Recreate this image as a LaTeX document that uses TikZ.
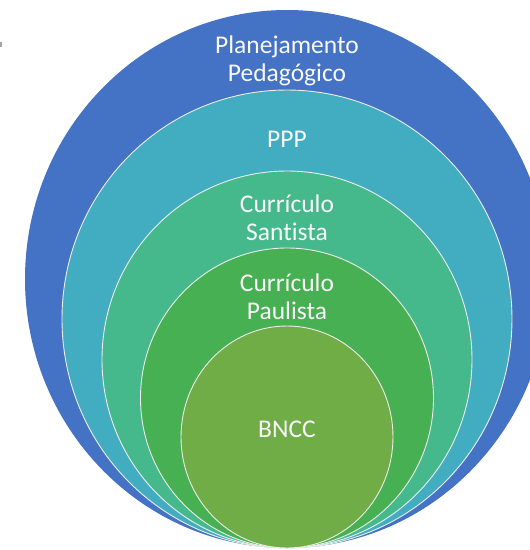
\documentclass[tikz,border=0pt]{standalone}
\usepackage{fontspec}
\setmainfont[Ligatures=NoCommon]{Carlito}
\definecolor{cblue}{HTML}{4472C4}
\definecolor{cteal}{HTML}{42ADC0}
\definecolor{cmint}{HTML}{45B98C}
\definecolor{cgreen}{HTML}{47B052}
\definecolor{colive}{HTML}{70AD47}
\begin{document}
\begin{tikzpicture}[x=1pt,y=-1pt,
  ring/.style={draw=white!85!gray,line width=0.9pt},
  lbl/.style={text=white!95!gray,font=\fontsize{25.5}{28}\selectfont,align=center,inner sep=0pt}]
\useasboundingbox (0,0) rectangle (530,550);
\begin{scope}
\clip (0,0) rectangle (530,550);
\fill[cblue] (287,279) ellipse [x radius=262pt, y radius=269pt];
\fill[cteal] (287,319) ellipse [x radius=225pt, y radius=229pt];
\draw[ring] (287,319) ellipse [x radius=225pt, y radius=229pt];
\fill[cmint] (287,359.5) ellipse [x radius=185pt, y radius=188.5pt];
\draw[ring] (287,359.5) ellipse [x radius=185pt, y radius=188.5pt];
\fill[cgreen] (287,398) ellipse [x radius=146.5pt, y radius=150pt];
\draw[ring] (287,398) ellipse [x radius=146.5pt, y radius=150pt];
\fill[colive] (287,437) ellipse [x radius=106pt, y radius=111pt];
\draw[ring] (287,437) ellipse [x radius=106pt, y radius=111pt];
\end{scope}
\fill[gray!70] (0,42) rectangle (2,47);
\node[lbl] (plan) at (287,61) {Planejamento\\Pedagógico};
\node[lbl] (ppp) at (287,139) {PPP};
\node[lbl] (sant) at (287,217.5) {Currículo\\Santista};
\node[lbl] (paul) at (287,296.5) {Currículo\\Paulista};
\node[lbl] (bncc) at (287,429) {BNCC};
\end{tikzpicture}
\end{document}
